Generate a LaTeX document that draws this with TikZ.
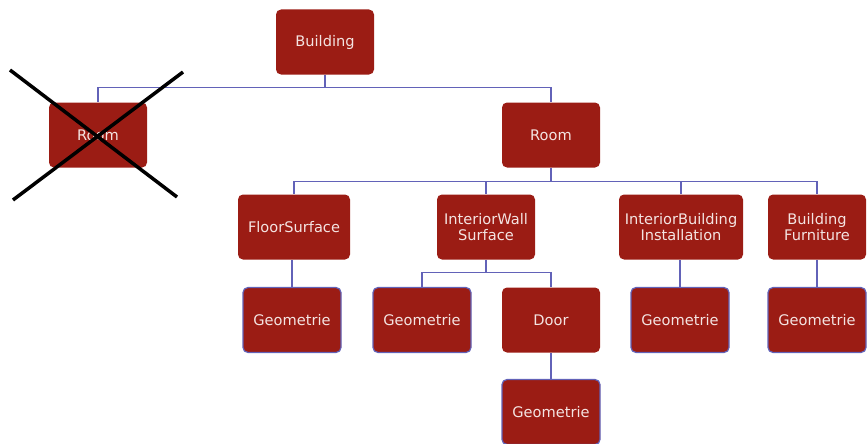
\documentclass[tikz,border=0pt]{standalone}
\usepackage{fontspec}
\setmainfont{DejaVu Sans}
\definecolor{boxred}{HTML}{9B1C14}
\definecolor{boxtext}{HTML}{F4E4E2}
\definecolor{linkblue}{HTML}{6262B8}
\tikzset{
  box/.style={fill=boxred, rounded corners=5pt, minimum width=98pt, minimum height=65pt,
    text=boxtext, align=center, font=\fontsize{14.6}{16.5}\selectfont},
  geo/.style={box, draw=linkblue, line width=1.2pt},
  link/.style={draw=linkblue, line width=1.3pt},
}
\begin{document}
\begin{tikzpicture}[x=1pt,y=-1pt]
      \useasboundingbox (0,0) rectangle (867,444);
      % top level
      \node [box] (building) at (325,42) {Building};
      \node [box] (oldroom) at (98,135) {Room};
      \node [box] (room) at (551,135) {Room};
      % surfaces and furniture
      \node [box, minimum width=112pt] (floor) at (294,227) {FloorSurface};
      \node [box] (wall) at (486,227) {InteriorWall\\Surface};
      \node [box, minimum width=124pt] (install) at (681,227) {InteriorBuilding\\Installation};
      \node [box] (furniture) at (817,227) {Building\\Furniture};
      % geometry leaves
      \node [geo] (floorgeo) at (292,320) {Geometrie};
      \node [geo] (wallgeo) at (422,320) {Geometrie};
      \node [box] (door) at (551,320) {Door};
      \node [geo] (installgeo) at (680,320) {Geometrie};
      \node [geo] (furnituregeo) at (817,320) {Geometrie};
      \node [geo] (doorgeo) at (551,412) {Geometrie};
      % connectors
      \draw [link] (building.south) -- ++(0,13) coordinate (bus1);
      \foreach \n in {oldroom,room}{
        \draw [link] (bus1) -| (\n.north);
      }
      \draw [link] (room.south) -- ++(0,14) coordinate (bus2);
      \foreach \n in {floor,wall,install,furniture}{
        \draw [link] (bus2) -| (\n.north);
      }
      \draw [link] (wall.south) -- ++(0,13) coordinate (bus3);
      \foreach \n in {wallgeo,door}{
        \draw [link] (bus3) -| (\n.north);
      }
      \foreach \a/\b in {floor/floorgeo,install/installgeo,furniture/furnituregeo,door/doorgeo}{
        \draw [link] (\b.north) -- (\b.north |- \a.south);
      }
      % the old room is struck out
      \draw [line width=3.5pt] (10,70) -- (177,197);
      \draw [line width=3.5pt] (183,72) -- (13,200);
    \end{tikzpicture}
\end{document}
